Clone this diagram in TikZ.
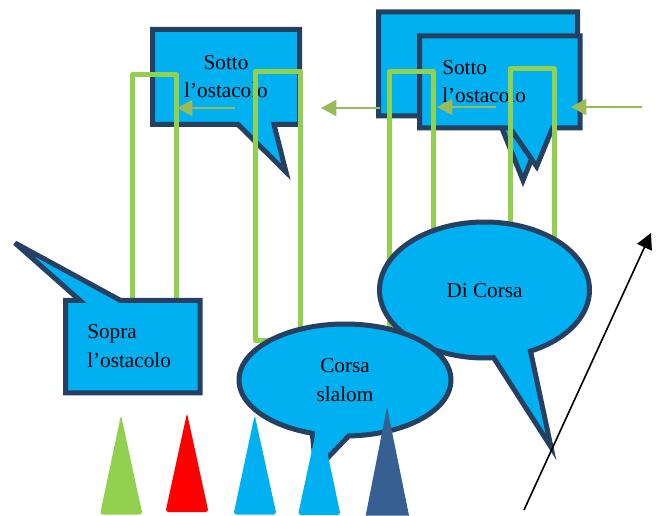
\documentclass[tikz,border=0pt]{standalone}
\usepackage{fontspec}
\setmainfont{Liberation Serif}
\usetikzlibrary{arrows.meta}
\definecolor{skyfill}{HTML}{00B0F0}
\definecolor{navyline}{HTML}{254061}
\definecolor{limeline}{HTML}{92D050}
\definecolor{olivearrow}{HTML}{9BBB59}
\definecolor{steelcone}{HTML}{366092}
\tikzset{
  bubble/.style={fill=skyfill,draw=navyline,line width=3.75pt,line join=miter,miter limit=12},
  gate/.style={draw=limeline,line width=3.75pt,line join=round},
  flow/.style={draw=olivearrow,line width=1.8pt,-{Triangle[length=11.5pt,width=12pt,fill=olivearrow]}},
  cone/.style={rounded corners=2.2pt},
  label/.style={font=\fontsize{15.9}{21}\selectfont,inner sep=0pt,anchor=base},
  labell/.style={label,anchor=base west}
}
\begin{document}
\begin{tikzpicture}[x=0.75pt,y=-0.75pt]
\useasboundingbox (0,0) rectangle (664,516);
% upper left bubble
\draw[bubble] (152.5,29.5) -- (299.5,29.5) -- (299.5,124.5) -- (274,124.5) -- (286,172) -- (238,124.5) -- (152.5,124.5) -- cycle;
\node[label] (sotto1) at (226,70) {Sotto};
\node[label] (ost1) at (226,97.7) {l’ostacolo};
% upper right bubbles
\draw[bubble] (378.5,12) -- (577.5,12) -- (577.5,116) -- (549,116) -- (523,180.4) -- (497,116) -- (378.5,116) -- cycle;
\draw[bubble] (419.5,36) -- (580,36) -- (580,128) -- (552.5,128) -- (536.7,166.5) -- (510,128) -- (419.5,128) -- cycle;
\node[labell] (sotto2) at (442,75) {Sotto};
\node[labell] (ost2) at (442,102.7) {l’ostacolo};
% gates
\draw[gate] (132.5,310) -- (132.5,74.5) -- (176,74.5) -- (176,310);
\draw[gate] (255.5,341) -- (255.5,71.5) -- (300,71.5) -- (300,341) -- cycle;
\draw[gate] (389.5,341) -- (389.5,71.5) -- (433,71.5) -- (433,341);
\draw[gate] (510.5,270) -- (510.5,69) -- (554,69) -- (554,270);
% arrows
\coordinate (a1s) at (235,108); \coordinate (a1e) at (177,108);
\coordinate (a2s) at (380,108); \coordinate (a2e) at (321,108);
\coordinate (a3s) at (496,107); \coordinate (a3e) at (437,107);
\coordinate (a4s) at (642,107); \coordinate (a4e) at (571,107);
\draw[flow] (a1s) -- (a1e);
\draw[flow] (a2s) -- (a2e);
\draw[flow] (a3s) -- (a3e);
\draw[flow] (a4s) -- (a4e);
% sopra bubble
\draw[bubble,miter limit=4] (65.5,300.5) -- (80,300.5) -- (15,243) -- (120.7,300.5) -- (200,300.5) -- (200,393) -- (65.5,393) -- cycle;
\node[labell] (sopra) at (87,339) {Sopra};
\node[labell] (ost3) at (87,367.7) {l’ostacolo};
% di corsa
\draw[bubble] plot[domain=85:424,samples=160] ({484.5+105*cos(\x)},{290+68*sin(\x)}) -- (551,447) -- cycle;
\node[label] (dicorsa) at (484.5,298) {Di Corsa};
% corsa slalom
\draw[bubble] plot[domain=108:448,samples=160] ({345+106*cos(\x)},{380+56*sin(\x)}) -- (316,470) -- cycle;
\node[label] (corsa) at (345,373) {Corsa};
\node[label] (slalom) at (345,402) {slalom};
% cones
\fill[limeline,cone] (121,415) -- (142.5,514.5) -- (100,514.5) -- cycle;
\fill[red,cone] (187,413) -- (208.5,512) -- (165.5,512) -- cycle;
\fill[skyfill,cone] (254.7,415) -- (276.5,514.5) -- (233.5,514.5) -- cycle;
\fill[skyfill,cone] (319.5,415) -- (340.5,515) -- (298,515) -- cycle;
\fill[steelcone] (387,407) -- (409,515.5) -- (365.7,515.5) -- cycle;
% black arrow
\coordinate (bs) at (524,510); \coordinate (be) at (651,233);
\draw[black,line width=1.2pt,-{Triangle[length=11.8pt,width=12pt]}] (bs) -- (be);
\end{tikzpicture}
\end{document}
